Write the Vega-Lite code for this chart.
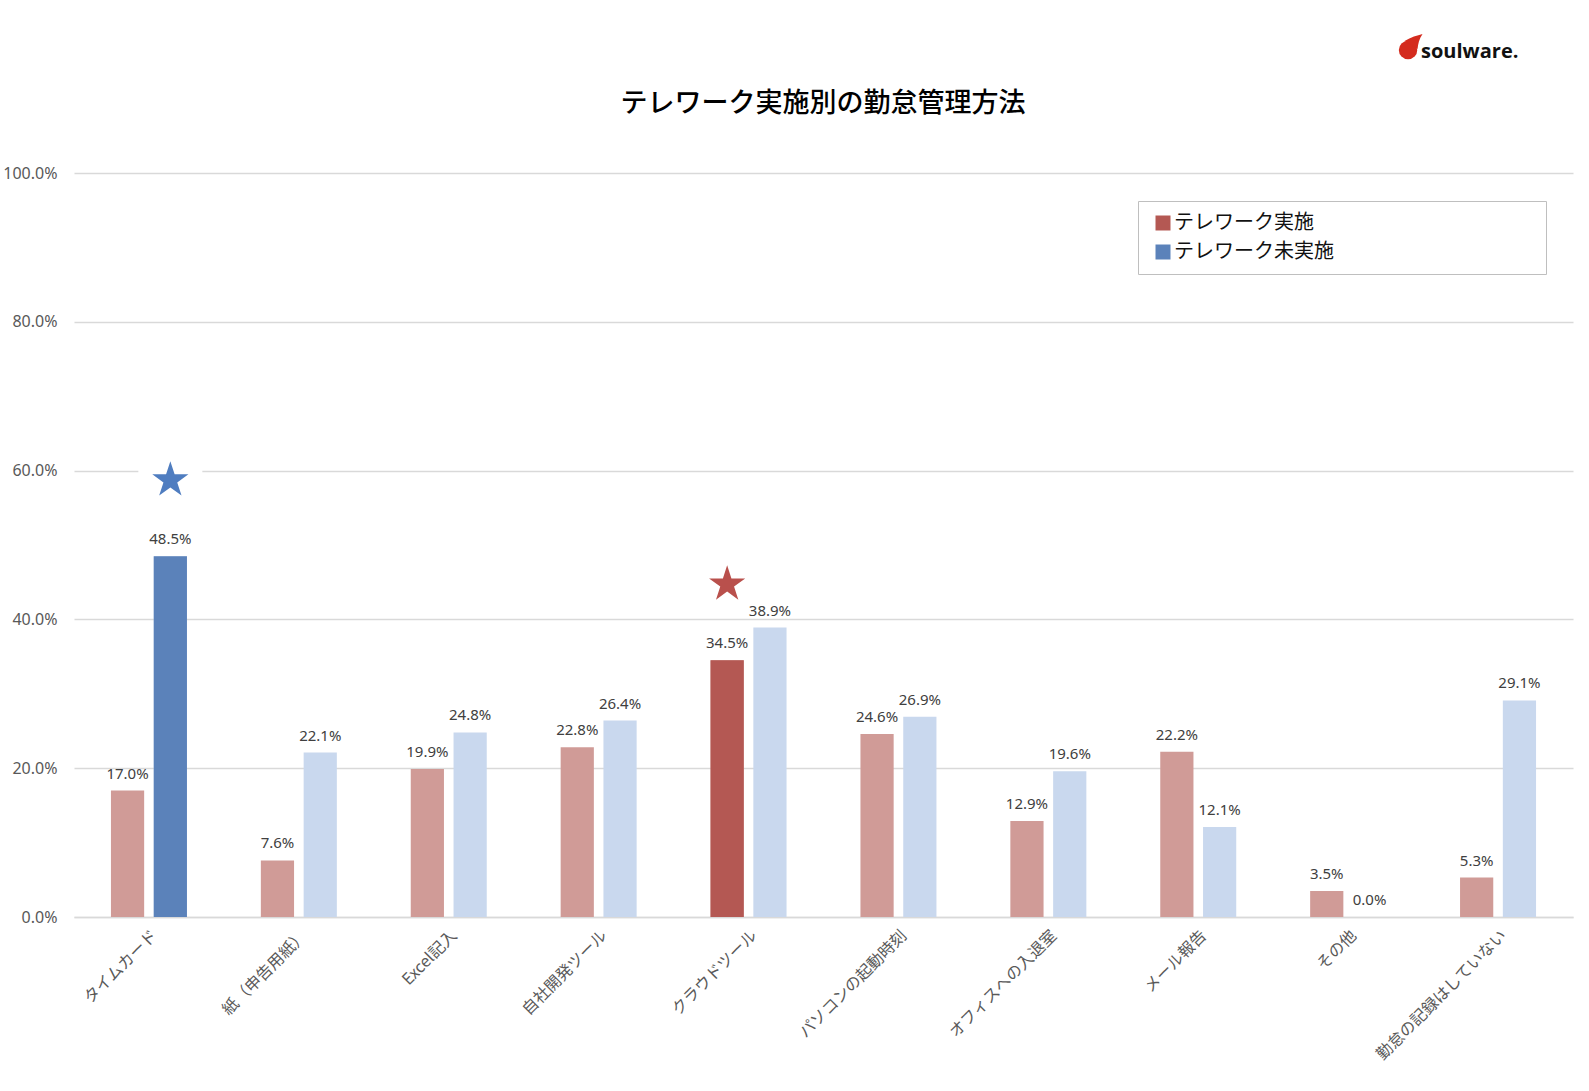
{
  "$schema": "https://vega.github.io/schema/vega-lite/v6.json",
  "width": 1499,
  "height": 744,
  "autosize": {"type": "none"},
  "padding": {"left": 74, "top": 173, "right": 16, "bottom": 174},
  "background": "white",
  "config": {
    "view": {"stroke": null},
    "font": "Noto Sans CJK JP"
  },
  "data": {
    "values": [
      {"方法": "タイムカード", "区分": "テレワーク実施", "割合": 0.170, "強調": false},
      {"方法": "タイムカード", "区分": "テレワーク未実施", "割合": 0.485, "強調": true},
      {"方法": "紙（申告用紙）", "区分": "テレワーク実施", "割合": 0.076, "強調": false},
      {"方法": "紙（申告用紙）", "区分": "テレワーク未実施", "割合": 0.221, "強調": false},
      {"方法": "Excel記入", "区分": "テレワーク実施", "割合": 0.199, "強調": false},
      {"方法": "Excel記入", "区分": "テレワーク未実施", "割合": 0.248, "強調": false},
      {"方法": "自社開発ツール", "区分": "テレワーク実施", "割合": 0.228, "強調": false},
      {"方法": "自社開発ツール", "区分": "テレワーク未実施", "割合": 0.264, "強調": false},
      {"方法": "クラウドツール", "区分": "テレワーク実施", "割合": 0.345, "強調": true},
      {"方法": "クラウドツール", "区分": "テレワーク未実施", "割合": 0.389, "強調": false},
      {"方法": "パソコンの起動時刻", "区分": "テレワーク実施", "割合": 0.246, "強調": false},
      {"方法": "パソコンの起動時刻", "区分": "テレワーク未実施", "割合": 0.269, "強調": false},
      {"方法": "オフィスへの入退室", "区分": "テレワーク実施", "割合": 0.129, "強調": false},
      {"方法": "オフィスへの入退室", "区分": "テレワーク未実施", "割合": 0.196, "強調": false},
      {"方法": "メール報告", "区分": "テレワーク実施", "割合": 0.222, "強調": false},
      {"方法": "メール報告", "区分": "テレワーク未実施", "割合": 0.121, "強調": false},
      {"方法": "その他", "区分": "テレワーク実施", "割合": 0.035, "強調": false},
      {"方法": "その他", "区分": "テレワーク未実施", "割合": 0.0, "強調": false},
      {"方法": "勤怠の記録はしていない", "区分": "テレワーク実施", "割合": 0.053, "強調": false},
      {"方法": "勤怠の記録はしていない", "区分": "テレワーク未実施", "割合": 0.291, "強調": false}
    ]
  },
  "resolve": {"scale": {"color": "independent"}},
  "layer": [
    {
      "encoding": {
        "x": {
          "field": "方法",
          "type": "nominal",
          "sort": null,
          "scale": {
            "domain": ["タイムカード", "紙（申告用紙）", "Excel記入", "自社開発ツール", "クラウドツール", "パソコンの起動時刻", "オフィスへの入退室", "メール報告", "その他", "勤怠の記録はしていない"],
            "paddingInner": 0.493,
            "paddingOuter": 0.2465
          },
          "axis": {
            "title": null,
            "labelAngle": -45,
            "labelFont": "Noto Sans CJK JP",
            "labelFontSize": 16,
            "labelColor": "#595959",
            "labelPadding": 10,
            "labelLimit": 300,
            "ticks": false,
            "grid": false,
            "domainColor": "#d9d9d9",
            "domainWidth": 1.5
          }
        },
        "xOffset": {
          "field": "区分",
          "type": "nominal",
          "scale": {"domain": ["テレワーク実施", "テレワーク未実施"], "paddingInner": 0.224}
        },
        "y": {
          "field": "割合",
          "type": "quantitative",
          "scale": {"domain": [0, 1]},
          "axis": {
            "title": null,
            "format": ".1%",
            "values": [0, 0.2, 0.4, 0.6, 0.8, 1],
            "labelFont": "Noto Sans",
            "labelFontSize": 16,
            "labelColor": "#595959",
            "labelPadding": 17,
            "domain": false,
            "ticks": false,
            "gridColor": "#d9d9d9",
            "gridWidth": 1.5
          }
        }
      },
      "resolve": {"scale": {"color": "independent"}},
      "layer": [
        {
          "mark": {"type": "bar"},
          "encoding": {
            "color": {
              "field": "区分",
              "type": "nominal",
              "scale": {"domain": ["テレワーク実施", "テレワーク未実施"], "range": ["#D09B97", "#C9D8EE"]},
              "legend": null
            }
          }
        },
        {
          "transform": [{"filter": "datum['強調']"}],
          "mark": {"type": "bar"},
          "encoding": {
            "color": {
              "field": "区分",
              "type": "nominal",
              "scale": {"domain": ["テレワーク実施", "テレワーク未実施"], "range": ["#B45853", "#5B82BA"]},
              "legend": {
                "orient": "none",
                "legendX": 1064,
                "legendY": 28,
                "title": null,
                "direction": "vertical",
                "symbolType": "square",
                "symbolSize": 225,
                "symbolStrokeWidth": 0,
                "symbolOffset": 3,
                "labelOffset": 1,
                "labelFont": "Noto Sans CJK JP",
                "labelFontSize": 20,
                "labelColor": "#111111",
                "labelLimit": 600,
                "labelExpr": "datum.label + '　　　　　　　　　\u2002\u2002\u200b'",
                "rowPadding": 9,
                "padding": 12,
                "strokeColor": "#bfbfbf",
                "fillColor": "white"
              }
            }
          }
        },
        {
          "transform": [{"filter": "datum['強調']"}],
          "mark": {"type": "point", "shape": "square", "filled": true, "size": 4096, "color": "white", "opacity": 1},
          "encoding": {"yOffset": {"value": -76}}
        },
        {
          "transform": [{"filter": "datum['強調']"}],
          "mark": {
            "type": "point",
            "shape": "M0,-1L0.2245,-0.309L0.951,-0.309L0.363,0.118L0.588,0.809L0,0.382L-0.588,0.809L-0.363,0.118L-0.951,-0.309L-0.2245,-0.309Z",
            "filled": true,
            "size": 1444,
            "opacity": 1
          },
          "encoding": {
            "yOffset": {"value": -76},
            "color": {
              "condition": {"test": "datum['区分'] === 'テレワーク実施'", "value": "#B9504C"},
              "value": "#4F7DC0"
            }
          }
        },
        {
          "mark": {"type": "text", "font": "Noto Sans", "fontSize": 15, "color": "#404040", "baseline": "alphabetic", "dy": -12},
          "encoding": {
            "text": {"field": "割合", "type": "quantitative", "format": ".1%"}
          }
        }
      ]
    },
    {
      "data": {"values": [{"タイトル": "テレワーク実施別の勤怠管理方法"}]},
      "mark": {"type": "text", "font": "Noto Sans CJK JP", "fontSize": 27, "fontWeight": 500, "color": "#000000", "align": "center", "baseline": "alphabetic", "dx": 74.5},
      "encoding": {
        "x": {"datum": "クラウドツール"},
        "y": {"datum": 1.082, "scale": {"domain": [0, 1]}},
        "text": {"field": "タイトル"}
      }
    },
    {
      "data": {"values": [{"ロゴ": "soulware."}]},
      "mark": {"type": "point", "shape": "circle", "filled": true, "size": 340, "color": "#D42B1E", "opacity": 1},
      "encoding": {
        "x": {"datum": "勤怠の記録はしていない"},
        "xOffset": {"value": -52},
        "y": {"datum": 1.1653, "scale": {"domain": [0, 1]}}
      }
    },
    {
      "data": {"values": [{"ロゴ": "soulware."}]},
      "mark": {
        "type": "point",
        "shape": "M-0.35,-0.9C0.3,-1.3,0.9,-1.45,1.45,-1.6C1.1,-1.1,1.0,-0.6,0.95,-0.1Z",
        "filled": true,
        "size": 400,
        "color": "#D42B1E",
        "opacity": 1
      },
      "encoding": {
        "x": {"datum": "勤怠の記録はしていない"},
        "xOffset": {"value": -52},
        "y": {"datum": 1.1653, "scale": {"domain": [0, 1]}}
      }
    },
    {
      "data": {"values": [{"ロゴ": "soulware."}]},
      "mark": {"type": "text", "font": "Open Sans", "fontWeight": "bold", "fontSize": 20, "color": "#111111", "align": "left", "baseline": "alphabetic", "dx": -77},
      "encoding": {
        "x": {"datum": "勤怠の記録はしていない"},
        "y": {"datum": 1.1546, "scale": {"domain": [0, 1]}},
        "text": {"field": "ロゴ"}
      }
    }
  ]
}
